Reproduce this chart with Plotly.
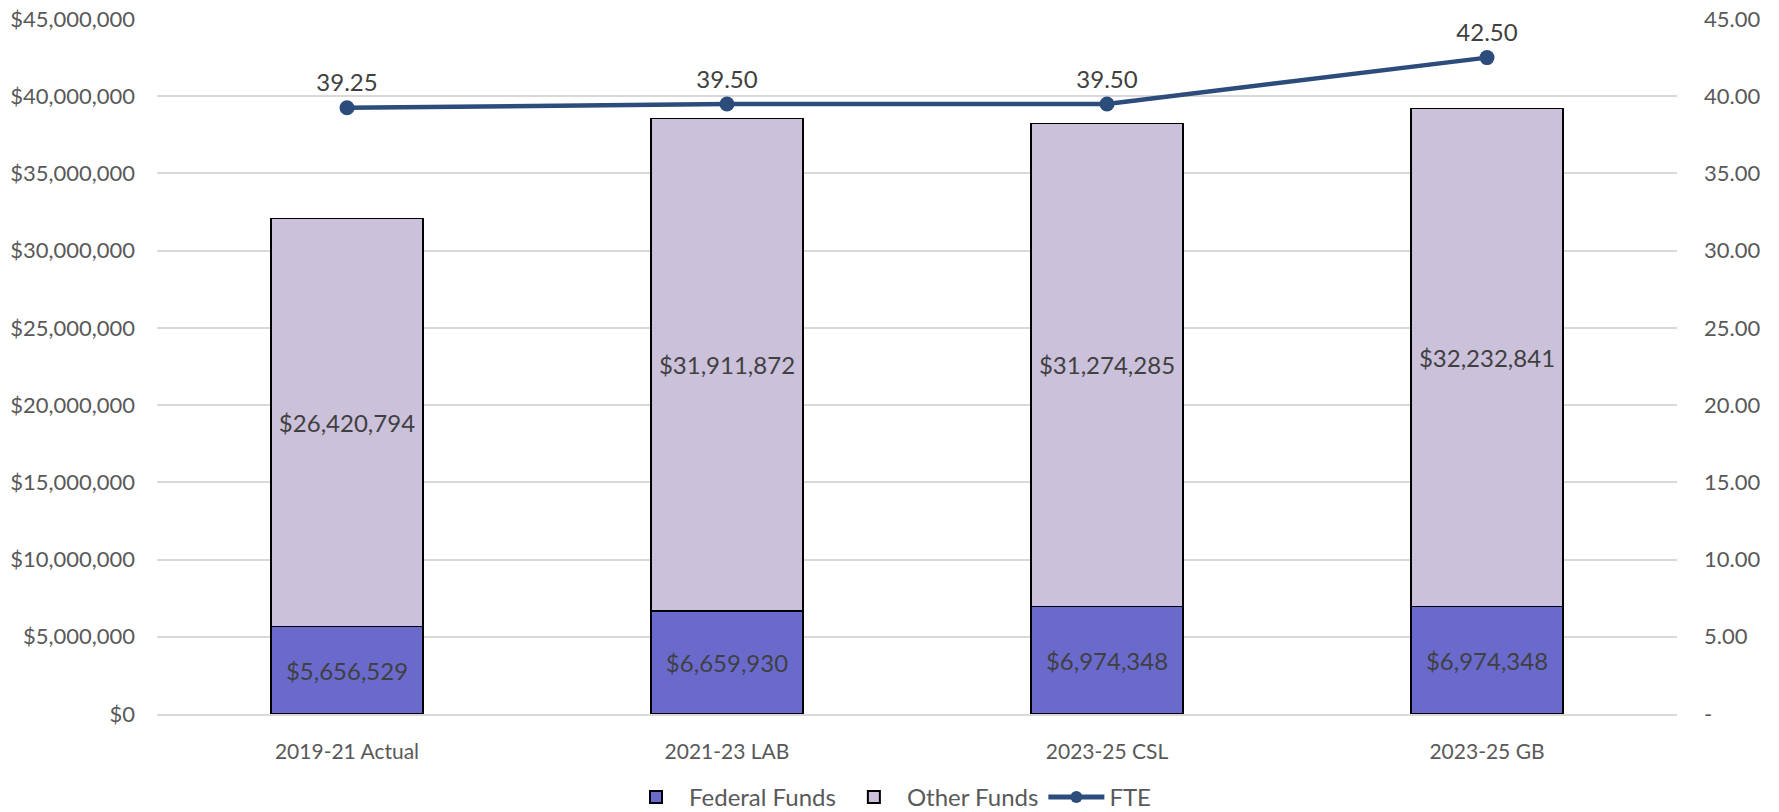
import plotly.graph_objects as go

categories = ["2019-21 Actual", "2021-23 LAB", "2023-25 CSL", "2023-25 GB"]
federal_funds = [5656529, 6659930, 6974348, 6974348]
other_funds = [26420794, 31911872, 31274285, 32232841]
fte = [39.25, 39.50, 39.50, 42.50]
right_tickvals = [0, 5, 10, 15, 20, 25, 30, 35, 40, 45]
right_ticktext = ["-", "5.00", "10.00", "15.00", "20.00", "25.00", "30.00", "35.00", "40.00", "45.00"]

FONT = "Lato"
fig = go.Figure()
fig.add_trace(go.Bar(
    x=categories, y=federal_funds, name="Federal Funds",
    marker=dict(color="#6A6ACD", line=dict(color="#000000", width=1.5)),
    text=[f"${v:,.0f}" for v in federal_funds], textposition="inside",
    insidetextanchor="middle", textangle=0,
    textfont=dict(family=FONT, size=24, color="#404040"),
    width=0.4,
))
fig.add_trace(go.Bar(
    x=categories, y=other_funds, name="Other Funds",
    marker=dict(color="#CBC1DB", line=dict(color="#000000", width=1.5)),
    text=[f"${v:,.0f}" for v in other_funds], textposition="inside",
    insidetextanchor="middle", textangle=0,
    textfont=dict(family=FONT, size=24, color="#404040"),
    width=0.4,
))
fig.add_trace(go.Scatter(
    x=categories, y=fte, name="FTE", yaxis="y2", mode="lines+markers+text",
    line=dict(color="#2C4C7C", width=4.5),
    marker=dict(color="#2C4C7C", size=15),
    text=[f"{v:.2f}" for v in fte], textposition="top center",
    textfont=dict(family=FONT, size=24, color="#404040"),
))

fig.update_layout(
    barmode="stack",
    width=1779, height=812,
    margin=dict(l=157, r=102, t=19, b=98, autoexpand=False),
    plot_bgcolor="white", paper_bgcolor="white",
    font=dict(family=FONT, size=22, color="#595959"),
    showlegend=True,
    legend=dict(orientation="h", x=0.5, xanchor="center", xref="container",
                y=0.018, yanchor="middle", yref="container",
                font=dict(family=FONT, size=24, color="#595959"), traceorder="normal",
                itemsizing="constant", itemwidth=56),
    xaxis=dict(showgrid=False, showline=True, linecolor="#D9D9D9", linewidth=1.5,
               tickfont=dict(family=FONT, size=21, color="#595959"), ticks="",
               ticklabelstandoff=18, automargin=False),
    yaxis=dict(range=[0, 45000000], tickvals=[i * 5000000 for i in range(10)],
               tickformat="$,.0f", showgrid=True, gridcolor="#D9D9D9", gridwidth=1.5,
               zeroline=False, ticklabelstandoff=21, automargin=False,
               tickfont=dict(family=FONT, size=22, color="#595959")),
    yaxis2=dict(range=[0, 45], overlaying="y", side="right", tickvals=right_tickvals,
                ticktext=right_ticktext, showgrid=False, zeroline=False,
                ticklabelstandoff=26, automargin=False,
                tickfont=dict(family=FONT, size=22, color="#595959")),
)
fig.write_html("out.html", config={"displayModeBar": False},
               post_script="document.body.style.margin='0';document.body.style.overflow='hidden';")
